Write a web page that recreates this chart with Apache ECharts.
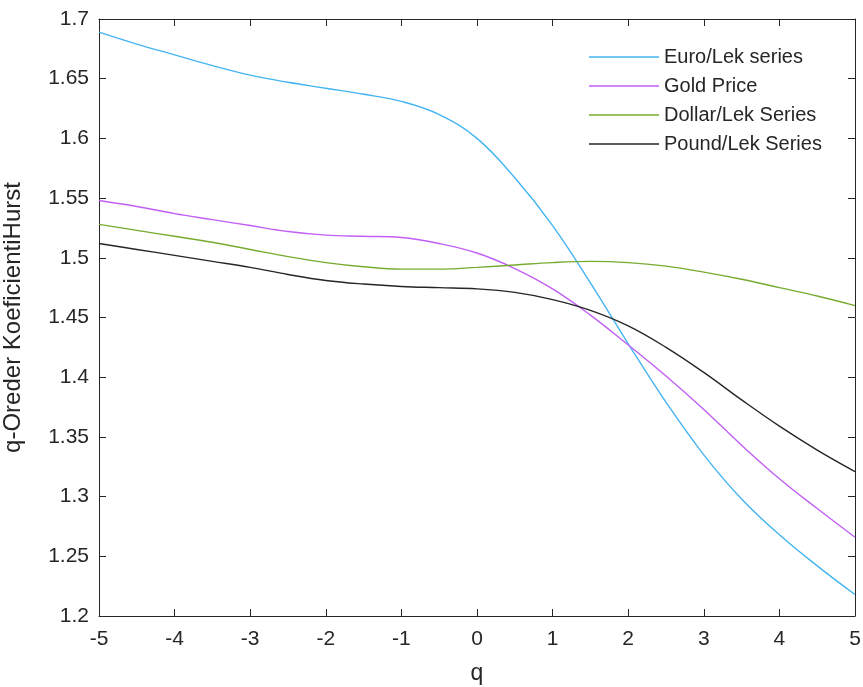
<!DOCTYPE html>
<html>
<head>
<meta charset="utf-8">
<script src="https://cdn.jsdelivr.net/npm/echarts@6/dist/echarts.min.js"></script>
<style>
  html, body { margin: 0; padding: 0; background: #fff; }
  #chart { width: 863px; height: 687px; }
</style>
</head>
<body>
<div id="chart"></div>
<script>
// q values (moment order)
const qValues = [-5, -4.5, -4, -3.5, -3, -2.5, -2, -1.5, -1, -0.5, 0, 0.5, 1, 1.5, 2, 2.5, 3, 3.5, 4, 4.5, 5];

// generalized Hurst exponent per series
const euroLek = [1.689, 1.679, 1.670, 1.661, 1.653, 1.647, 1.642, 1.637, 1.631, 1.620, 1.600, 1.567, 1.527, 1.479, 1.428, 1.379, 1.335, 1.298, 1.268, 1.242, 1.218];
const goldPrice = [1.548, 1.543, 1.537, 1.532, 1.527, 1.522, 1.519, 1.518, 1.517, 1.512, 1.504, 1.491, 1.474, 1.452, 1.427, 1.401, 1.373, 1.343, 1.315, 1.290, 1.266];
const dollarLek = [1.528, 1.523, 1.518, 1.513, 1.507, 1.501, 1.496, 1.4925, 1.4905, 1.4905, 1.492, 1.494, 1.496, 1.497, 1.496, 1.493, 1.488, 1.482, 1.475, 1.468, 1.460];
const poundLek = [1.512, 1.507, 1.502, 1.497, 1.492, 1.486, 1.481, 1.478, 1.476, 1.475, 1.474, 1.471, 1.465, 1.456, 1.443, 1.425, 1.404, 1.381, 1.359, 1.339, 1.321];

const seriesNames = ['Euro/Lek series', 'Gold Price', 'Dollar/Lek Series', 'Pound/Lek Series'];
const seriesData = [euroLek, goldPrice, dollarLek, poundLek];
const seriesColors = ['#45B4F2', '#C25FF5', '#77AC30', '#262626'];

const axisColor = '#262626';
const fontFamily = '"Liberation Sans", Arial, Helvetica, sans-serif';

const chart = echarts.init(document.getElementById('chart'), null, { renderer: 'canvas' });

const boxAxisX = (pos, showLabels) => ({
  type: 'value', position: pos, min: -5, max: 5, interval: 1,
  axisLine: { show: true, onZero: false, lineStyle: { color: axisColor, width: 1 } },
  axisTick: { show: true, inside: true, length: 7, lineStyle: { color: axisColor } },
  axisLabel: { show: showLabels, color: axisColor, fontSize: 21, fontFamily: fontFamily, margin: 13 },
  splitLine: { show: false }
});
const boxAxisY = (pos, showLabels) => ({
  type: 'value', position: pos, min: 1.2, max: 1.7, interval: 0.05,
  axisLine: { show: true, onZero: false, lineStyle: { color: axisColor, width: 1 } },
  axisTick: { show: true, inside: true, length: 7, lineStyle: { color: axisColor } },
  axisLabel: {
    show: showLabels, color: axisColor, fontSize: 21, fontFamily: fontFamily, margin: 10,
    formatter: v => String(+v.toFixed(2))
  },
  splitLine: { show: false }
});

const xBottom = Object.assign(boxAxisX('bottom', true), {
  name: 'q', nameLocation: 'middle', nameGap: 46,
  nameTextStyle: { color: axisColor, fontSize: 23, fontFamily: fontFamily }
});
const yLeft = Object.assign(boxAxisY('left', true), {
  name: 'q-Oreder KoeficientiHurst', nameLocation: 'middle', nameGap: 74,
  nameTextStyle: { color: axisColor, fontSize: 24, fontFamily: fontFamily }
});

chart.setOption({
  backgroundColor: '#ffffff',
  animation: false,
  grid: { left: 99, right: 8, top: 19, bottom: 71, containLabel: false, outerBoundsMode: 'none' },
  legend: {
    show: true,
    orient: 'vertical', left: 584, top: 42,
    icon: 'rect', itemWidth: 70, itemHeight: 1.4, itemGap: 9,
    data: seriesNames,
    textStyle: { color: axisColor, fontSize: 20, fontFamily: fontFamily, lineHeight: 20 }
  },
  xAxis: [xBottom, boxAxisX('top', false)],
  yAxis: [yLeft, boxAxisY('right', false)],
  series: seriesNames.map((name, i) => ({
    name: name, type: 'line', xAxisIndex: 0, yAxisIndex: 0,
    data: qValues.map((q, k) => [q, seriesData[i][k]]),
    smooth: 0.4, symbol: 'none',
    lineStyle: { color: seriesColors[i], width: 1.4 },
    itemStyle: { color: seriesColors[i] }
  }))
});
</script>
</body>
</html>
